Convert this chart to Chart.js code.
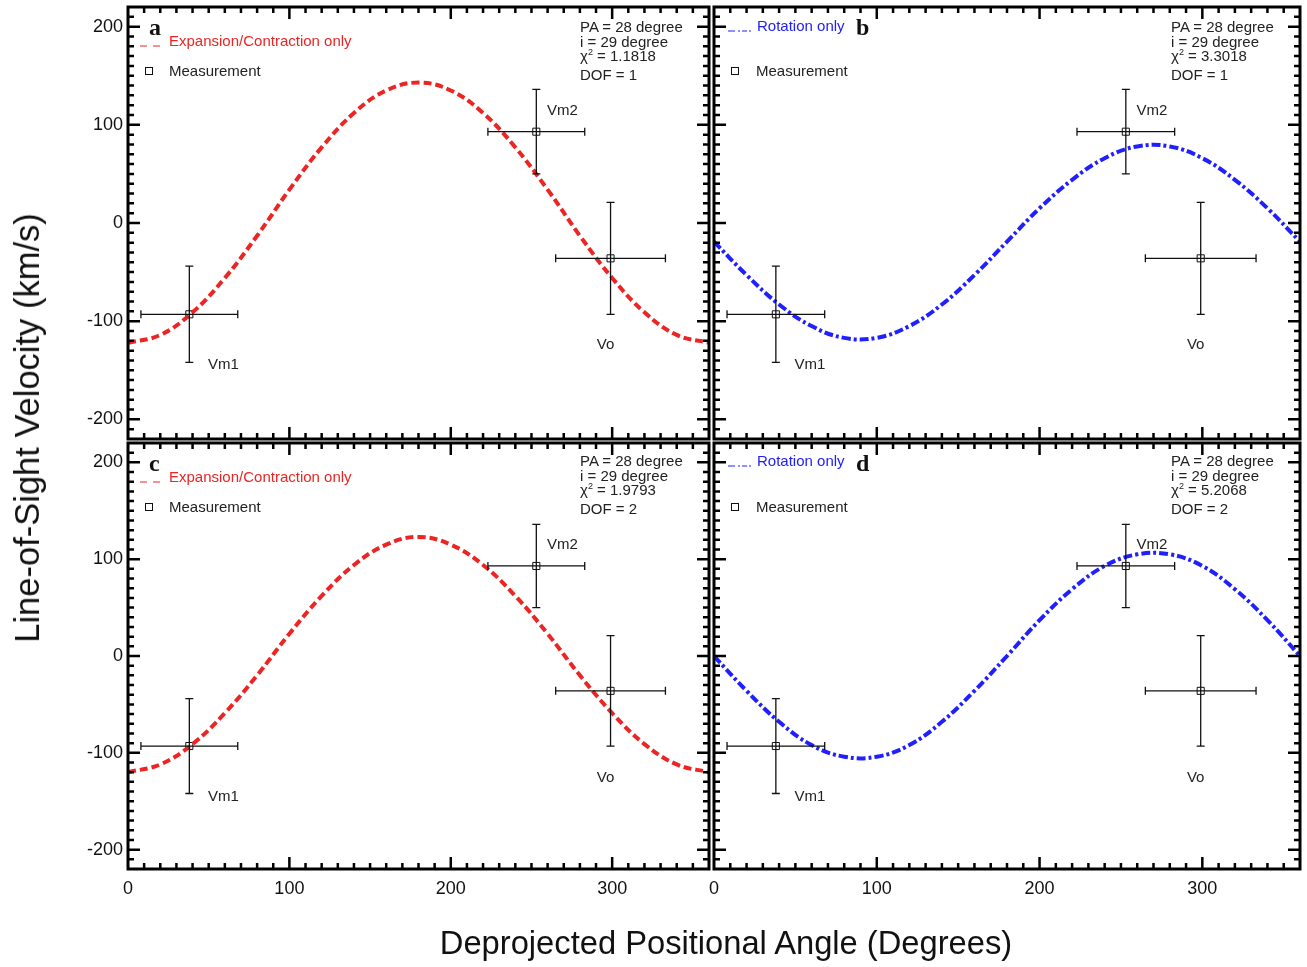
<!DOCTYPE html>
<html>
<head>
<meta charset="utf-8">
<script src="https://cdn.jsdelivr.net/npm/chart.js@4.4.0/dist/chart.umd.min.js"></script>
<style>
  body { margin: 0; background: #fff; }
  #page { position: relative; width: 1307px; height: 967px; overflow: hidden;
          font-family: "Liberation Sans", Arial, sans-serif; color: #222; }
  canvas { position: absolute; left: 0; top: -50px; }
  .txt { position: absolute; white-space: nowrap; font-size: 15px; line-height: 15px; }
  .txt sup { font-size: 9px; line-height: 0; vertical-align: 6px; }
  .letter { position: absolute; font-family: "Liberation Serif", "Times New Roman", serif;
            font-weight: bold; font-size: 24px; line-height: 24px; color: #111; }
  .title { position: absolute; line-height: 34px; color: #111; white-space: nowrap; }
</style>
</head>
<body>
<div id="page"></div>
<script>
// axis ticks
const angleTicks = [0, 100, 200, 300];
const velocityTicks = [-200, -100, 0, 100, 200];

// model curves (every 20 degrees)
const curveAngles = [0, 20, 40, 60, 80, 100, 120, 140, 160, 180, 200, 220, 240, 260, 280, 300, 320, 340, 360];
const expansionA = [-122, -114, -91, -56, -13, 34, 77, 112, 135, 143, 135, 112, 77, 34, -13, -56, -91, -114, -122];
const rotationB = [-19, -53, -83, -105, -117, -117, -105, -83, -53, -19, 15, 44, 66, 78, 78, 66, 44, 15, -19];
const expansionC = [-120, -112, -91, -59, -20, 23, 62, 94, 115, 123, 115, 94, 62, 23, -20, -59, -91, -112, -120];
const rotationD = [0, -36, -68, -92, -104, -104, -92, -68, -36, 0, 37, 69, 93, 105, 105, 93, 69, 37, 0];

// measurements
const measNames = ["Vm1", "Vm2", "Vo"];
const measAngle = [38, 253, 299];
const measVelocity = [-93, 93, -36];
const measAngleErr = [30, 30, 34];
const measVelocityErr = [49, 43, 57];

// fit results
const fitChi = ["1.1818", "3.3018", "1.9793", "5.2068"];
const fitDof = ["1", "1", "2", "2"];

const RED = "#ec2424";
const BLUE = "#2020ff";
const FONT = '"Liberation Sans", Arial, sans-serif';
const SHIFT = 50; // canvases start 50px above the page so label overflow never moves the plot box

// label offsets (px) of the measurement names from their points
const nameOffsets = [[34, 51], [26, -21], [-5, 87]];

const panels = [
  { letter: "a", left: 128, right: 709, top: 7, bottom: 439, values: expansionA, kind: "exp", xLabels: false, yLabels: true },
  { letter: "b", left: 714, right: 1300, top: 7, bottom: 439, values: rotationB, kind: "rot", xLabels: false, yLabels: false },
  { letter: "c", left: 128, right: 709, top: 443, bottom: 869, values: expansionC, kind: "exp", xLabels: true, yLabels: true },
  { letter: "d", left: 714, right: 1300, top: 443, bottom: 869, values: rotationD, kind: "rot", xLabels: true, yLabels: false }
];

const page = document.getElementById("page");

function addText(cls, html, left, top) {
  const el = document.createElement("div");
  el.className = cls;
  el.innerHTML = html;
  el.style.left = left + "px";
  el.style.top = top + "px";
  page.appendChild(el);
  return el;
}

const frameTicks = {
  id: "frameTicks",
  afterDatasetsDraw(chart) {
    const ctx = chart.ctx;
    const xs = chart.scales.x;
    const ys = chart.scales.y;
    const area = chart.chartArea;

    // error bars
    ctx.save();
    ctx.strokeStyle = "#111";
    ctx.lineWidth = 1.3;
    measAngle.forEach((a, i) => {
      const px = xs.getPixelForValue(a);
      const py = ys.getPixelForValue(measVelocity[i]);
      const x0 = xs.getPixelForValue(a - measAngleErr[i]);
      const x1 = xs.getPixelForValue(a + measAngleErr[i]);
      const y0 = ys.getPixelForValue(measVelocity[i] - measVelocityErr[i]);
      const y1 = ys.getPixelForValue(measVelocity[i] + measVelocityErr[i]);
      ctx.beginPath();
      ctx.moveTo(x0, py); ctx.lineTo(x1, py);
      ctx.moveTo(x0, py - 4); ctx.lineTo(x0, py + 4);
      ctx.moveTo(x1, py - 4); ctx.lineTo(x1, py + 4);
      ctx.moveTo(px, y0); ctx.lineTo(px, y1);
      ctx.moveTo(px - 4, y0); ctx.lineTo(px + 4, y0);
      ctx.moveTo(px - 4, y1); ctx.lineTo(px + 4, y1);
      ctx.stroke();
    });

    // measurement names
    ctx.fillStyle = "#222";
    ctx.font = "15px " + FONT;
    ctx.textAlign = "center";
    ctx.textBaseline = "middle";
    measNames.forEach((n, i) => {
      const px = xs.getPixelForValue(measAngle[i]) + nameOffsets[i][0];
      const py = ys.getPixelForValue(measVelocity[i]) + nameOffsets[i][1];
      ctx.fillText(n, px, py);
    });

    // legend samples
    const p = chart.options.plugins.frameTicks;
    ctx.lineWidth = 1.2;
    if (p.kind === "exp") {
      ctx.strokeStyle = RED;
      ctx.beginPath();
      ctx.moveTo(area.left + 12, area.top + 39); ctx.lineTo(area.left + 19, area.top + 39);
      ctx.moveTo(area.left + 25, area.top + 39); ctx.lineTo(area.left + 32, area.top + 39);
      ctx.stroke();
    } else {
      ctx.strokeStyle = BLUE;
      const yy = area.top + p.legendY + 5;
      ctx.beginPath();
      ctx.moveTo(area.left + 14, yy); ctx.lineTo(area.left + 21, yy);
      ctx.moveTo(area.left + 24, yy); ctx.lineTo(area.left + 26, yy);
      ctx.moveTo(area.left + 28, yy); ctx.lineTo(area.left + 33, yy);
      ctx.moveTo(area.left + 35, yy); ctx.lineTo(area.left + 37, yy);
      ctx.stroke();
    }
    ctx.strokeStyle = "#111";
    ctx.lineWidth = 1;
    ctx.strokeRect(area.left + 17.5, area.top + 60.5, 7, 7);
    ctx.restore();
  },
  afterDraw(chart) {
    const ctx = chart.ctx;
    const xs = chart.scales.x;
    const ys = chart.scales.y;
    const a = chart.chartArea;
    ctx.save();
    ctx.strokeStyle = "#000";
    ctx.lineWidth = 2.5;
    ctx.beginPath();
    for (let v = 10; v < 360; v += 10) {
      const x = xs.getPixelForValue(v);
      const len = v % 100 === 0 ? 12 : 6;
      ctx.moveTo(x, a.bottom); ctx.lineTo(x, a.bottom - len);
      ctx.moveTo(x, a.top); ctx.lineTo(x, a.top + len);
    }
    for (let v = -210; v < 220; v += 10) {
      const y = ys.getPixelForValue(v);
      const len = v % 100 === 0 ? 12 : 6;
      ctx.moveTo(a.left, y); ctx.lineTo(a.left + len, y);
      ctx.moveTo(a.right, y); ctx.lineTo(a.right - len, y);
    }
    ctx.stroke();
    ctx.lineWidth = 3;
    ctx.strokeRect(a.left, a.top, a.right - a.left, a.bottom - a.top);
    ctx.restore();
  }
};

panels.forEach((p, k) => {
  const canvas = document.createElement("canvas");
  canvas.width = 1307;
  canvas.height = 967 + SHIFT;
  page.appendChild(canvas);

  const yAxisW = p.yLabels ? 60 : 0;
  const xAxisH = p.xLabels ? 40 : 0;
  const isExp = p.kind === "exp";
  const isTop = p.top < 100;
  const legendY = isExp ? 34 : (isTop ? 19 : 18);

  new Chart(canvas, {
    type: "scatter",
    data: {
      datasets: [
        {
          data: curveAngles.map((a, i) => ({ x: a, y: p.values[i] })),
          showLine: true,
          borderColor: isExp ? RED : BLUE,
          borderWidth: 4,
          borderDash: isExp ? [8, 4] : [9, 3, 3, 3],
          pointRadius: 0,
          tension: 0.4,
          fill: false
        },
        {
          data: measAngle.map((a, i) => ({ x: a, y: measVelocity[i] })),
          pointStyle: "rect",
          pointRadius: 5,
          borderColor: "#111",
          borderWidth: 1,
          backgroundColor: "rgba(0,0,0,0)"
        }
      ]
    },
    options: {
      responsive: false,
      animation: false,
      devicePixelRatio: 1,
      layout: {
        padding: {
          left: p.left - yAxisW,
          right: 1307 - p.right,
          top: p.top + SHIFT,
          bottom: 967 - p.bottom - xAxisH
        }
      },
      plugins: {
        legend: { display: false },
        tooltip: { enabled: false },
        frameTicks: { kind: p.kind, legendY: legendY }
      },
      scales: {
        x: {
          type: "linear",
          min: 0,
          max: 360,
          afterBuildTicks: (s) => { s.ticks = angleTicks.map((v) => ({ value: v })); },
          afterFit: (s) => { s.height = xAxisH; },
          grid: { display: false, drawTicks: false },
          border: { display: false },
          ticks: { display: p.xLabels, padding: 9, color: "#111", font: { family: FONT, size: 18 } }
        },
        y: {
          type: "linear",
          min: -220,
          max: 220,
          afterBuildTicks: (s) => { s.ticks = velocityTicks.map((v) => ({ value: v })); },
          afterFit: (s) => { s.width = yAxisW; },
          grid: { display: false, drawTicks: false },
          border: { display: false },
          ticks: { display: p.yLabels, padding: 5, color: "#111", font: { family: FONT, size: 18 } }
        }
      }
    },
    plugins: [frameTicks]
  });

  // panel texts
  if (isExp) {
    addText("letter", p.letter, p.left + 21, p.top + 8);
    addText("txt", "Expansion/Contraction only", p.left + 41, p.top + legendY - 8).style.color = RED;
  } else {
    addText("txt", "Rotation only", p.left + 43, p.top + legendY - 8).style.color = BLUE;
    addText("letter", p.letter, p.left + 142, p.top + 8);
  }
  addText("txt", "Measurement", p.left + (isExp ? 41 : 42), p.top + 56);

  const infoX = p.left + (isExp ? 452 : 457);
  const infoY = p.top + (isTop ? 20 : 18) - 8.5;
  addText("txt", "PA = 28 degree", infoX, infoY);
  addText("txt", "i = 29 degree", infoX, infoY + 15);
  addText("txt", "&chi;<sup>2</sup> = " + fitChi[k], infoX, infoY + 29);
  addText("txt", "DOF = " + fitDof[k], infoX, infoY + 48);
});

const xTitle = addText("title", "Deprojected Positional Angle (Degrees)", 0, 926);
xTitle.style.fontSize = "32.7px";
xTitle.style.width = "1452px";
xTitle.style.textAlign = "center";
const yTitle = addText("title", "Line-of-Sight Velocity (km/s)", 27, 428);
yTitle.style.fontSize = "34.5px";
yTitle.style.transform = "translate(-50%, -50%) rotate(-90deg)";
</script>
</body>
</html>
